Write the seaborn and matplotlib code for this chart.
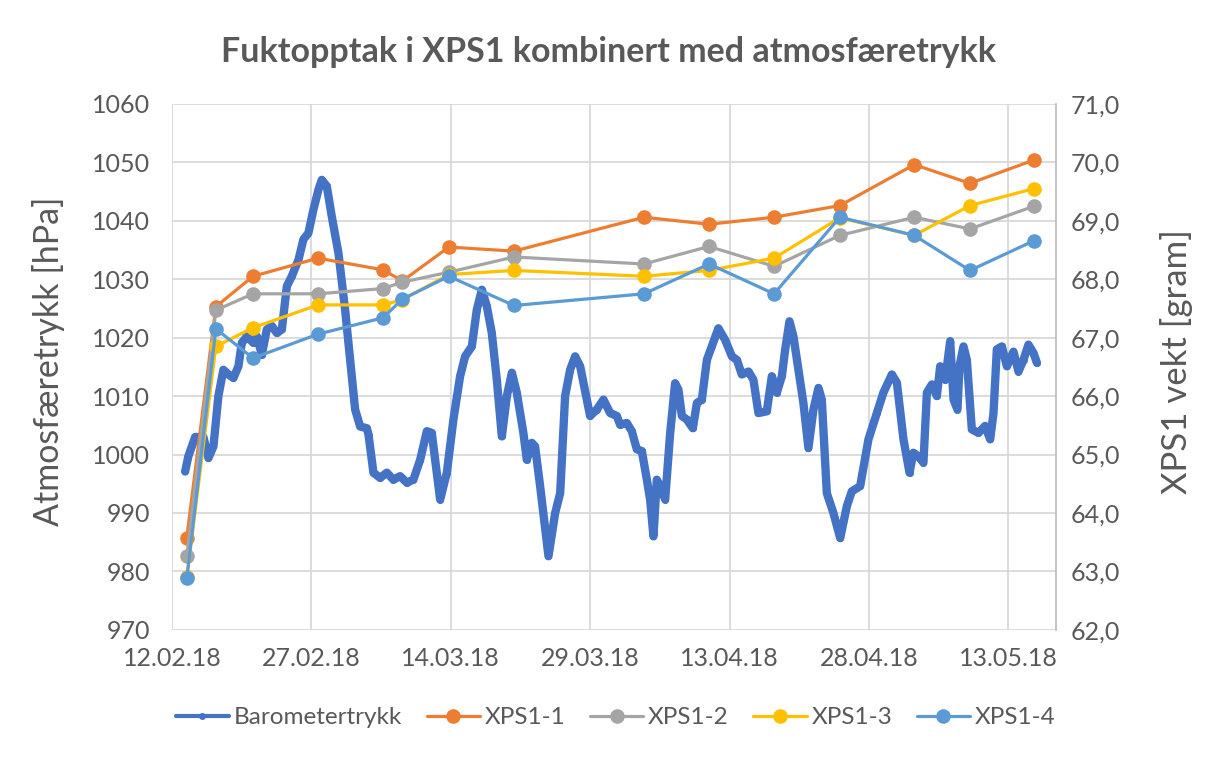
import pandas as pd
import numpy as np
import matplotlib
matplotlib.use('Agg')
import matplotlib.pyplot as plt
import matplotlib.dates as mdates
from matplotlib.ticker import FuncFormatter, MultipleLocator
import seaborn as sns

# barometer: days after 12.02.18 and pressure in hPa
baro_days = [1.40, 1.75, 2.48, 3.37, 3.91, 4.45, 4.98, 5.52, 6.06, 6.60, 7.14, 7.50, 8.04, 8.75, 9.12,
             9.66, 10.19, 10.73, 11.27, 11.81, 12.35, 12.88, 13.60, 14.13, 14.67, 15.21, 15.75, 16.11,
             16.65, 17.19, 17.90, 18.62, 19.16, 19.70, 20.24, 20.96, 21.14, 21.67, 22.39, 23.11, 23.82,
             24.54, 25.26, 25.97, 26.70, 27.42, 27.95, 28.85, 29.57, 30.28, 31.00, 31.54, 32.26, 32.80,
             33.34, 33.87, 34.41, 34.95, 35.49, 36.03, 36.57, 37.10, 37.81, 38.18, 38.72, 39.07, 39.61,
             40.51, 41.23, 41.77, 42.30, 42.84, 43.38, 43.92, 44.64, 44.99, 45.71, 46.43, 47.15, 47.87,
             48.22, 48.94, 49.48, 50.02, 50.56, 51.10, 51.45, 51.81, 52.17, 52.53, 53.07, 53.61, 54.14,
             54.50, 54.87, 55.40, 56.05, 56.48, 57.02, 57.56, 58.09, 58.80, 59.53, 60.25, 60.79, 61.32,
             62.04, 62.57, 63.11, 64.01, 64.55, 65.09, 65.63, 65.99, 66.45, 66.88, 67.42, 67.95, 68.49,
             69.03, 69.57, 69.93, 70.47, 71.18, 71.91, 72.63, 73.16, 74.06, 74.95, 75.86, 76.56, 77.47,
             78.01, 78.72, 79.37, 79.79, 80.33, 80.87, 81.24, 81.78, 82.31, 82.67, 83.21, 83.75, 84.11,
             84.53, 84.75, 85.18, 85.54, 86.08, 86.79, 87.51, 88.05, 88.41, 88.77, 89.31, 89.85, 90.56,
             91.10, 91.64, 92.17, 92.71, 93.08]
baro_hpa = [997.1, 999.7, 1003.0, 1003.0, 999.4, 1001.4, 1010.0, 1014.5, 1013.7, 1013.1, 1015.1, 1019.1,
            1020.2, 1019.1, 1020.2, 1017.1, 1021.4, 1022.0, 1020.8, 1021.4, 1028.8, 1030.5, 1033.3, 1036.8,
            1037.9, 1041.9, 1045.3, 1047.0, 1045.9, 1040.7, 1034.5, 1024.8, 1016.2, 1007.7, 1004.8, 1004.5,
            1003.4, 996.9, 996.0, 996.9, 995.7, 996.3, 995.2, 995.7, 999.1, 1004.0, 1003.7, 992.3, 996.9,
            1006.0, 1013.4, 1016.8, 1018.5, 1024.8, 1028.2, 1025.4, 1020.8, 1012.8, 1003.1, 1010.0, 1014.0,
            1010.6, 1003.7, 999.1, 1002.0, 1001.4, 994.6, 982.6, 990.0, 993.4, 1010.0, 1014.5, 1016.8,
            1015.1, 1009.4, 1006.6, 1007.7, 1009.4, 1007.1, 1006.6, 1005.1, 1005.4, 1004.0, 1000.9, 1000.6,
            995.7, 992.3, 986.0, 995.7, 994.6, 992.3, 1003.7, 1012.2, 1011.1, 1006.6, 1006.0, 1004.5,
            1008.8, 1009.4, 1016.2, 1018.5, 1021.6, 1019.6, 1016.8, 1016.2, 1013.7, 1014.2, 1012.8, 1007.1,
            1007.4, 1013.4, 1010.6, 1013.4, 1018.0, 1022.8, 1020.2, 1014.5, 1008.8, 1001.1, 1007.7, 1011.4,
            1009.4, 993.4, 990.0, 985.7, 991.2, 993.7, 994.6, 1002.6, 1007.1, 1010.6, 1013.7, 1012.3,
            1002.6, 996.9, 1000.3, 999.7, 998.6, 1010.6, 1012.0, 1010.0, 1015.1, 1012.8, 1019.4, 1009.4,
            1007.7, 1015.1, 1018.5, 1016.2, 1004.3, 1003.7, 1004.9, 1002.6, 1007.1, 1018.0, 1018.5, 1015.1,
            1017.6, 1014.2, 1016.2, 1018.8, 1017.4, 1015.7]

# weighing dates for XPS1 samples and weights in gram
xps_dates = ['2018-02-13 14:00', '2018-02-16 17:00', '2018-02-20 17:00', '2018-02-27 17:00',
             '2018-03-06 17:00', '2018-03-08 19:00', '2018-03-13 19:00', '2018-03-20 19:00',
             '2018-04-03 19:00', '2018-04-10 19:00', '2018-04-17 19:00', '2018-04-24 21:00',
             '2018-05-02 21:00', '2018-05-08 21:00', '2018-05-15 19:00']
xps1_1 = [63.58, 67.53, 68.05, 68.36, 68.16, 67.97, 68.55, 68.48, 69.06, 68.94, 69.06, 69.26, 69.96, 69.64, 70.04]
xps1_2 = [63.26, 67.47, 67.75, 67.75, 67.84, 67.95, 68.12, 68.38, 68.26, 68.56, 68.22, 68.75, 69.06, 68.86, 69.25]
xps1_3 = [62.90, 66.85, 67.17, 67.56, 67.56, 67.65, 68.08, 68.15, 68.05, 68.15, 68.36, 69.05, 68.75, 69.26, 69.55]
xps1_4 = [62.88, 67.15, 66.65, 67.06, 67.34, 67.66, 68.05, 67.55, 67.75, 68.26, 67.75, 69.06, 68.75, 68.15, 68.66]

series_names = ['XPS1-1', 'XPS1-2', 'XPS1-3', 'XPS1-4']
series_colors = ['#ED7D31', '#A5A5A5', '#FFC000', '#5B9BD5']

start = pd.Timestamp('2018-02-12')
baro = pd.DataFrame({'tid': start + pd.to_timedelta(baro_days, unit='D'), 'trykk': baro_hpa})
xps = pd.DataFrame({'tid': pd.to_datetime(xps_dates), 'XPS1-1': xps1_1, 'XPS1-2': xps1_2,
                    'XPS1-3': xps1_3, 'XPS1-4': xps1_4})
xps_long = xps.melt(id_vars='tid', var_name='prove', value_name='vekt')

sns.set_style('white')
plt.rcParams['font.family'] = ['Lato', 'DejaVu Sans']
txt = '#595959'

fig = plt.figure(figsize=(12.12, 7.58), dpi=100)
ax = fig.add_axes([0.142, 0.169, 0.729, 0.694])
ax2 = ax.twinx()

sns.lineplot(data=baro, x='tid', y='trykk', ax=ax, color='#4472C4', linewidth=6,
             marker='o', markersize=5, markeredgewidth=0, label='Barometertrykk', legend=False)

for name, col in zip(series_names, series_colors):
    d = xps_long[xps_long['prove'] == name]
    sns.lineplot(data=d, x='tid', y='vekt', ax=ax2, color=col, linewidth=2.3, marker='o',
                 markersize=10.5, markeredgewidth=0, label=name, legend=False)

x0 = mdates.date2num(start)
ax.set_xlim(x0, x0 + 95.1)
ax.set_xticks([x0 + 15 * i for i in range(7)])
ax.xaxis.set_major_formatter(mdates.DateFormatter('%d.%m.%y'))

ax.set_ylim(970, 1060)
ax.yaxis.set_major_locator(MultipleLocator(10))
ax2.set_ylim(62, 71)
ax2.yaxis.set_major_locator(MultipleLocator(1))
ax2.yaxis.set_major_formatter(FuncFormatter(lambda v, p: f'{v:.1f}'.replace('.', ',')))

ax.grid(True, color='#D9D9D9', linewidth=1.3)
ax2.grid(False)
for a in (ax, ax2):
    for s in a.spines.values():
        s.set_visible(False)
ax2.spines['right'].set_visible(True)
ax2.spines['right'].set_color('#BFBFBF')
ax2.spines['right'].set_linewidth(1.3)

ax.tick_params(axis='y', length=0, pad=16, labelsize=18, labelcolor=txt)
ax.tick_params(axis='x', length=0, pad=12, labelsize=18, labelcolor=txt)
ax2.tick_params(axis='y', length=0, pad=11, labelsize=18, labelcolor=txt)

ax.set_xlabel('')
ax.set_ylabel('Atmosfæretrykk [hPa]', fontsize=24.5, color=txt)
ax2.set_ylabel('XPS1 vekt [gram]', fontsize=25, color=txt, rotation=90)
ax.yaxis.set_label_coords(-0.121, 0.51)
ax2.yaxis.set_label_coords(1.118, 0.51)

fig.suptitle('Fuktopptak i XPS1 kombinert med atmosfæretrykk', x=0.502, y=0.952,
             fontsize=24.5, fontweight='bold', color=txt)

h1, l1 = ax.get_legend_handles_labels()
h2, l2 = ax2.get_legend_handles_labels()
leg = fig.legend(h1 + h2, l1 + l2, loc='center', bbox_to_anchor=(0.508, 0.053), ncol=5,
                 frameon=False, fontsize=17.5, handlelength=2.2, columnspacing=1.0, handletextpad=0.2)
for t in leg.get_texts():
    t.set_color(txt)
leg.legend_handles[0].set_linewidth(3)
leg.legend_handles[0].set_markersize(5)

fig.savefig('out.png', dpi=100)
